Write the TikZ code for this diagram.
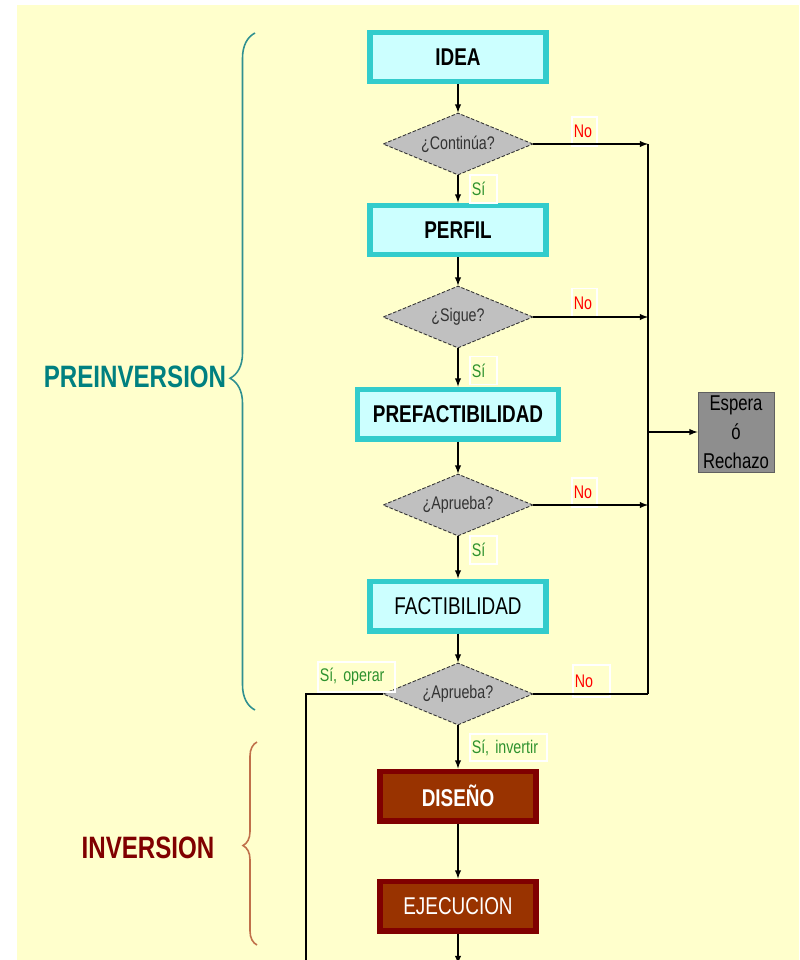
\documentclass[tikz,border=0pt]{standalone}
\usepackage{fontspec}
\setmainfont{Liberation Sans}
\newfontfamily\estrecha[FakeStretch=0.78]{Liberation Sans}
\usepackage{xcolor}
\usepackage{tikz}
\usetikzlibrary{calc, shapes.geometric, positioning, decorations.pathreplacing}

\definecolor{fondo}{HTML}{FFFFCC}
\definecolor{cianofondo}{HTML}{CCFFFF}
\definecolor{cianoborde}{HTML}{33CCCC}
\definecolor{cafefondo}{HTML}{993300}
\definecolor{cafeborde}{HTML}{800000}
\definecolor{rombofondo}{HTML}{C0C0C0}
\definecolor{esperafondo}{HTML}{8E8E8E}
\definecolor{rojo}{HTML}{FF0000}
\definecolor{verde}{HTML}{2E922E}
\definecolor{azulverde}{HTML}{008080}
\definecolor{llaveazul}{HTML}{2F9090}
\definecolor{llavecafe}{HTML}{C0704A}

\newcommand{\letracaja}{\estrecha\fontsize{13.8}{15}\selectfont}
\newcommand{\letrachica}{\estrecha\fontsize{10.4}{12}\selectfont}

\begin{document}
\begin{tikzpicture}[>=latex, x=0.02cm, y=-0.02cm,
    caja/.style={rectangle, draw=cianoborde, fill=cianofondo, line width=0.11cm,
        minimum width=3.53cm, minimum height=0.99cm, inner sep=0pt},
    cajacafe/.style={caja, draw=cafeborde, fill=cafefondo, text=white, minimum width=3.13cm},
    rombo/.style={diamond, aspect=2.4, draw=gray!40!black, fill=rombofondo, line width=0.5pt,
        dash pattern=on 2pt off 1pt, minimum width=3cm, minimum height=1.24cm,
        inner sep=0pt, font=\letrachica, text=black!80},
    etiq/.style={rectangle, draw=white, line width=0.8pt, inner xsep=1pt, inner ysep=0pt,
        align=left, font=\letrachica},
    flecha/.style={->, line width=0.6pt},
    linea/.style={line width=0.6pt},
    llave/.style={decorate, line width=0.9pt}]

    \useasboundingbox (0,0) rectangle (799,960);
    \clip (0,0) rectangle (799,960);
    \fill[fondo] (17,5) rectangle (799,960);

    % Etapas
    \node[caja, font=\letracaja\bfseries] (idea) at (458,57) {IDEA};
    \node[rombo] (d1) at (458,144) {¿Continúa?};
    \node[caja, font=\letracaja\bfseries] (perfil) at (458,230) {PERFIL};
    \node[rombo] (d2) at (458,317) {¿Sigue?};
    \node[caja, font=\letracaja\bfseries, minimum width=4.03cm] (prefac) at (458,414) {PREFACTIBILIDAD};
    \node[rombo] (d3) at (458,505) {¿Aprueba?};
    \node[caja, font=\letracaja] (fac) at (458,606) {FACTIBILIDAD};
    \node[rombo] (d4) at (458,694) {¿Aprueba?};
    \node[cajacafe, font=\letracaja\bfseries] (diseno) at (458,796) {DISEÑO};
    \node[cajacafe, font=\letracaja] (ejec) at (458,906) {EJECUCION};

    \node[rectangle, draw=gray!75!black, fill=esperafondo, line width=0.5pt,
        minimum width=1.52cm, minimum height=1.6cm, inner sep=0pt, align=center,
        font=\estrecha\fontsize{12.2}{16.4}\selectfont] (espera) at (736,432) {Espera\\ó\\Rechazo};

    % Etiquetas
    \node[etiq, text=rojo, text width=0.43cm, minimum height=0.58cm] (no1) at (584.5,131.5) {No};
    \node[etiq, text=verde, text width=0.47cm, minimum height=0.56cm] (si1) at (483.5,189) {Sí};
    \node[etiq, text=rojo, text width=0.43cm, minimum height=0.58cm] (no2) at (584.5,303) {No};
    \node[etiq, text=verde, text width=0.47cm, minimum height=0.56cm] (si2) at (483.5,370.5) {Sí};
    \node[etiq, text=rojo, text width=0.43cm, minimum height=0.58cm] (no3) at (584.5,492.5) {No};
    \node[etiq, text=verde, text width=0.47cm, minimum height=0.56cm] (si3) at (483.5,550) {Sí};
    \node[etiq, text=verde, text width=1.47cm, minimum height=0.6cm] (operar) at (356.5,677) {Sí, operar};
    \node[etiq, text=rojo, text width=0.67cm, minimum height=0.64cm] (no4) at (591.5,681) {No};
    \node[etiq, text=verde, text width=1.47cm, minimum height=0.54cm] (invertir) at (508.5,747.5) {Sí, invertir};

    % Conectores
    \coordinate (riel) at (648,0);
    \coordinate (retorno) at (306,980);
    \coordinate (salida) at (0,964);
    \draw[flecha] (idea) -- (d1);
    \draw[flecha] (d1) -- (perfil);
    \draw[flecha] (perfil) -- (d2);
    \draw[flecha] (d2) -- (prefac);
    \draw[flecha] (prefac) -- (d3);
    \draw[flecha] (d3) -- (fac);
    \draw[flecha] (fac) -- (d4);
    \draw[flecha] (d4) -- (diseno);
    \draw[flecha] (diseno) -- (ejec);
    \draw[flecha] (ejec.south) -- (ejec.south |- salida);
    \draw[flecha] (d1.east) -- (d1.east -| riel);
    \draw[flecha] (d2.east) -- (d2.east -| riel);
    \draw[flecha] (d3.east) -- (d3.east -| riel);
    \draw[linea] (d4.east) -- (d4.east -| riel);
    \draw[linea] (d1.east -| riel) -- (d4.east -| riel);
    \draw[flecha] (riel |- espera.west) -- (espera.west);
    \draw[linea] (d4.west) -| (retorno);

    % Fases
    \draw[llave, llaveazul, decoration={brace, amplitude=0.5cm, aspect=0.49}] (255,710) -- (255,33);
    \draw[llave, llavecafe, decoration={brace, amplitude=0.28cm, aspect=0.49}] (257,945) -- (257,742);
    \node[text=azulverde, font=\estrecha\fontsize{17.6}{20}\selectfont\bfseries] (preinv) at (135,377) {PREINVERSION};
    \node[text=cafeborde, font=\estrecha\fontsize{17.6}{20}\selectfont\bfseries] (inv) at (148,848) {INVERSION};
\end{tikzpicture}
\end{document}
